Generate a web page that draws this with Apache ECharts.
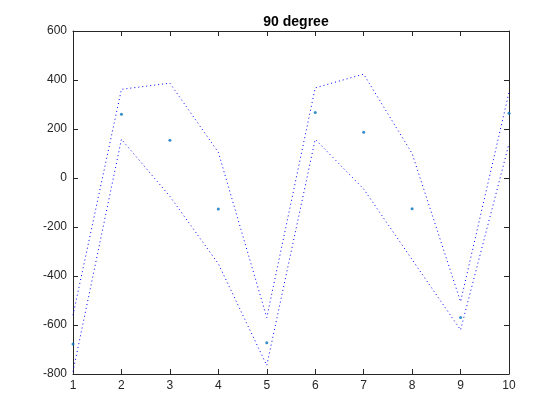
<!DOCTYPE html>
<html>
<head>
<meta charset="utf-8">
<script src="https://cdn.jsdelivr.net/npm/echarts@6/dist/echarts.min.js"></script>
<style>html,body{margin:0;padding:0;background:#fff;}#c{width:560px;height:420px;}</style>
</head>
<body>
<div id="c"></div>
<script>
var xValues = [1, 2, 3, 4, 5, 6, 7, 8, 9, 10];
var meanValues = [-678, 260, 154, -127, -672, 267, 187, -125, -569, 264];
var upperValues = [-560, 362, 387, 105, -570, 368, 424, 100, -505, 350];
var lowerValues = [-790, 158, -75, -350, -765, 158, -45, -333, -620, 140];
var xTicks = [1, 2, 3, 4, 5, 6, 7, 8, 9, 10];
var yTicks = [-800, -600, -400, -200, 0, 200, 400, 600];

function pairs(ys) { return xValues.map(function (x, i) { return [x, ys[i]]; }); }

var axisColor = '#262626';
var font = 'Liberation Sans, Arial, Helvetica, sans-serif';
function xAxisCfg(pos, showLabel) {
  return {
    type: 'value', position: pos, min: xTicks[0], max: xTicks[xTicks.length - 1], interval: 1,
    axisLine: { show: true, onZero: false, lineStyle: { color: axisColor, width: 1 } },
    axisTick: { show: true, inside: true, length: 5, lineStyle: { color: axisColor } },
    axisLabel: { show: showLabel, color: axisColor, fontSize: 12, fontFamily: font, margin: 6 },
    splitLine: { show: false }
  };
}
function yAxisCfg(pos, showLabel) {
  return {
    type: 'value', position: pos, min: yTicks[0], max: yTicks[yTicks.length - 1], interval: 200,
    axisLine: { show: true, onZero: false, lineStyle: { color: axisColor, width: 1 } },
    axisTick: { show: true, inside: true, length: 5, lineStyle: { color: axisColor } },
    axisLabel: { show: showLabel, color: axisColor, fontSize: 12, fontFamily: font, margin: 6 },
    splitLine: { show: false }
  };
}

var chart = echarts.init(document.getElementById('c'), null, { renderer: 'canvas' });
chart.setOption({
  animation: false,
  backgroundColor: '#ffffff',
  title: {
    text: '90 degree', left: 291, textAlign: 'center', top: 10,
    textStyle: { fontSize: 14, fontWeight: 'bold', color: '#000', fontFamily: font }
  },
  grid: { left: 73, right: 51, top: 31, bottom: 46, containLabel: false },
  xAxis: [xAxisCfg('bottom', true), xAxisCfg('top', false)],
  yAxis: [yAxisCfg('left', true), yAxisCfg('right', false)],
  series: [
    {
      type: 'line', data: pairs(upperValues), symbol: 'none', clip: true,
      lineStyle: { color: '#0000ff', width: 1, type: [1, 3] }
    },
    {
      type: 'line', data: pairs(lowerValues), symbol: 'none', clip: true,
      lineStyle: { color: '#0000ff', width: 1, type: [1, 3] }
    },
    {
      type: 'scatter', data: pairs(meanValues), symbol: 'circle', symbolSize: 3,
      itemStyle: { color: '#0072BD' }
    }
  ]
});
</script>
</body>
</html>
